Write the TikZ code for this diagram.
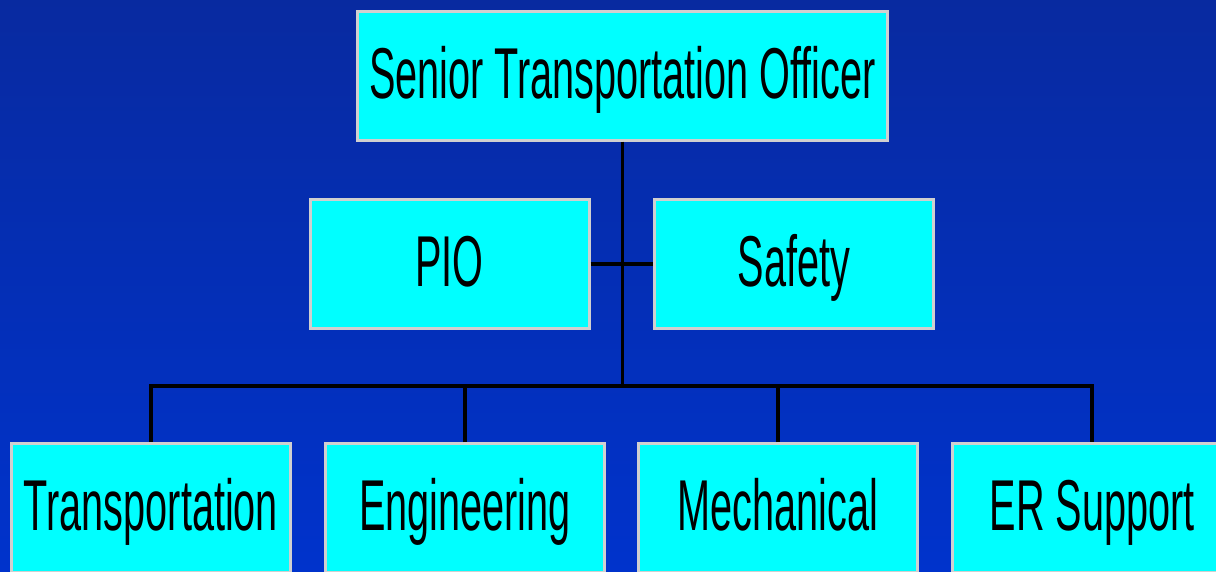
\documentclass[tikz,border=0pt]{standalone}
\usepackage{fontspec}
\setmainfont{Liberation Sans}
\newfontfamily\unitfont{Liberation Sans}[FakeStretch=0.55]
\usepackage{tikz}
\usetikzlibrary{arrows,positioning}
\definecolor{bgtop}{RGB}{8,42,160}
\definecolor{bgbot}{RGB}{0,51,204}
\definecolor{boxfill}{RGB}{0,255,255}
\definecolor{boxline}{RGB}{208,208,208}
\tikzstyle{unit}=[draw=boxline, line width=0.06cm, fill=boxfill, align=center,
  minimum width=5.58cm, minimum height=2.58cm, inner sep=0pt,
  text height=1.02cm, text depth=0.12cm,
  font=\unitfont\fontsize{41}{49}\selectfont]
\tikzstyle{link}=[draw=black, line width=0.07cm]

\begin{document}
\begin{tikzpicture}[node distance=1cm]
                        \shade [top color=bgtop, bottom color=bgbot] (0,0) rectangle (24.32,-11.42);
                        \useasboundingbox (0,0) rectangle (24.32,-11.42);
                        \node [unit,minimum width=10.6cm] (sto) at (12.45,-1.51) {Senior Transportation Officer};
                        \node [unit] (pio) [below of=sto,node distance=3.77cm,xshift=-3.46cm] {PIO};
                        \node [unit] (safety) [right of=pio,node distance=6.89cm] {Safety};
                        \node [unit] (tr) [below of=sto,node distance=8.65cm,xshift=-9.43cm] {Transportation};
                        \node [unit] (eng) [right of=tr,node distance=6.28cm] {Engineering};
                        \node [unit] (mech) [right of=eng,node distance=6.26cm] {Mechanical};
                        \node [unit] (er) [right of=mech,node distance=6.28cm] {ER Support};
                        \coordinate [below of=sto,node distance=6.21cm] (bus);
                        \path[link]
                        (sto) -- (bus)
                        (pio) -- (safety)
                        (tr) |- (bus) -| (er)
                        (eng) -- (eng |- bus)
                        (mech) -- (mech |- bus);
                    \end{tikzpicture}
\end{document}
